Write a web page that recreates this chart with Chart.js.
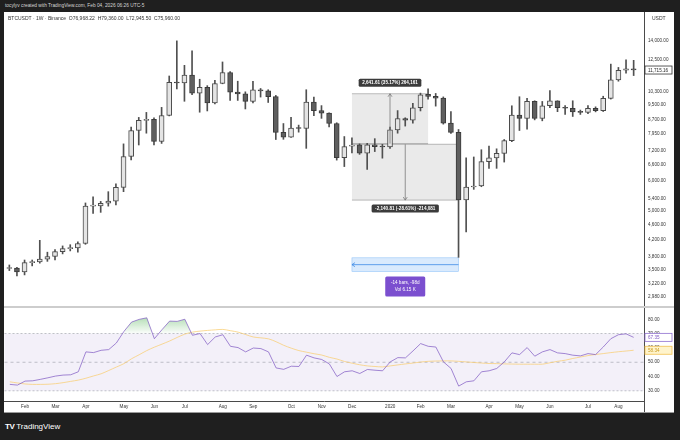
<!DOCTYPE html>
<html>
<head>
<meta charset="utf-8">
<title>BTCUSDT 1W</title>
<script src="https://cdn.jsdelivr.net/npm/chart.js@4.4.1/dist/chart.umd.min.js"></script>
<style>
  body { margin: 0; width: 680px; height: 440px; background: #1f1f1f; overflow: hidden; position: relative; font-family: "Liberation Sans", Arial, sans-serif; }
  #credit { position: absolute; left: 5px; top: 3px; font-size: 4.8px; color: #d6d6d6; white-space: nowrap; }
  #pane { position: absolute; left: 4px; top: 12px; width: 670px; height: 401px; background: #fff; }
  #priceChart { position: absolute; left: 0; top: 0; }
  #rsiChart { position: absolute; left: 0; top: 296px; }
  #symbol { position: absolute; left: 4px; top: 3px; font-size: 5px; color: #333; white-space: nowrap; }
  #unit { position: absolute; left: 648px; top: 3px; font-size: 5px; color: #333; }
  #sep { position: absolute; left: 0; top: 294px; width: 670px; height: 2px; background: #cdcdcd; }
  #axisFoot { position: absolute; left: 640px; top: 389px; width: 1px; height: 12px; background: #4a4a4a; }
  #bottomLine { position: absolute; left: 0; top: 400px; width: 670px; height: 1px; background: #9a9a9a; }
  #logo { position: absolute; left: 5px; top: 422px; color: #fff; font-size: 8px; white-space: nowrap; }
  #logo b { font-weight: 900; letter-spacing: -0.5px; margin-right: 2px; }
</style>
</head>
<body>
<div id="credit">tocylyv created with TradingView.com, Feb 04, 2026 06:26 UTC-5</div>
<div id="pane">
  <canvas id="priceChart" width="670" height="294"></canvas>
  <div id="symbol">BTCUSDT · 1W · Binance &nbsp;O76,968.22 &nbsp;H79,360.00 &nbsp;L72,945.50 &nbsp;C75,960.00</div>
  <div id="unit">USDT</div>
  <div id="sep"></div>
  <canvas id="rsiChart" width="670" height="105"></canvas>
  <div id="axisFoot"></div>
  <div id="bottomLine"></div>
</div>
<div id="logo"><b>TV</b>TradingView</div>
<script>
// weekly candles, first bar = week of 21 Jan 2019
const opens = [3535, 3545, 3460, 3660, 3675, 3740, 3800, 3915, 3985, 4000,
    4110, 5150, 5160, 5240, 5310, 5770, 6950, 8130, 8640, 8700,
    7610, 8900, 10880, 10830, 11360, 10190, 10550, 9600, 10800, 11540,
    10260, 10140, 9690, 10390, 10330, 9980, 8040, 7810, 8250, 8230,
    9660, 9170, 9030, 8480, 6900, 7400, 7460, 7090, 7460, 7380,
    7360, 8165, 8740, 8650, 9330, 10120, 9990, 9890, 8500, 8040,
    5350, 5780, 5815, 6740, 6890, 7080, 7650, 8920, 8750, 9690,
    8750, 9440, 9730, 9330, 9300, 9100, 9070, 9300, 9170, 9870,
    11040, 11700, 11800];
const highs = [3610, 3560, 3720, 3720, 4190, 3900, 3960, 4050, 4080, 4150,
    5250, 5450, 5300, 5620, 5890, 7500, 8300, 8800, 9070, 8780,
    9350, 11300, 13970, 12050, 13150, 11080, 10660, 11000, 12300, 11600,
    10950, 10270, 10950, 10480, 10400, 10050, 8480, 8800, 8400, 10400,
    9950, 9450, 9050, 8520, 7840, 7780, 7500, 7520, 7740, 7480,
    8300, 9170, 8780, 9580, 10190, 10450, 10170, 9960, 9110, 8180,
    6890, 6930, 7240, 7400, 7280, 7700, 9440, 9970, 9880, 9730,
    9690, 10350, 9730, 9450, 9730, 9200, 9450, 9380, 10000, 12140,
    11900, 12450, 12420];
const lows = [3490, 3380, 3400, 3590, 3650, 3690, 3720, 3860, 3930, 3900,
    4090, 4930, 4960, 5150, 5190, 5620, 6810, 7450, 8000, 7450,
    7520, 8880, 10450, 9700, 10100, 9080, 9150, 9550, 10780, 9750,
    9750, 9260, 9600, 9950, 9630, 7700, 7710, 7800, 8050, 7300,
    8890, 8750, 8310, 6800, 6540, 7100, 7040, 6430, 7160, 6880,
    7300, 8000, 8350, 8500, 9150, 9820, 9420, 8450, 7990, 3780,
    4410, 5700, 5790, 6470, 6470, 6720, 7600, 8130, 8200, 8670,
    8620, 9330, 9110, 8960, 8850, 8960, 9000, 9100, 9120, 9830,
    10950, 11500, 11330];
const closes = [3545, 3460, 3660, 3675, 3740, 3800, 3915, 3985, 4000, 4110,
    5150, 5160, 5240, 5310, 5770, 6950, 8130, 8640, 8700, 7610,
    8900, 10880, 10830, 11360, 10190, 10550, 9600, 10800, 11540, 10250,
    10140, 9690, 10390, 10330, 9980, 8040, 7810, 8250, 8230, 9660,
    9170, 9030, 8480, 6900, 7380, 7440, 7090, 7460, 7380, 7360,
    8165, 8740, 8650, 9330, 10080, 9990, 9890, 8500, 8040, 5350,
    5780, 5815, 6740, 6890, 7080, 7650, 8920, 8750, 9690, 8750,
    9440, 9730, 9330, 9300, 9100, 9070, 9300, 9170, 9870, 11040,
    11700, 11800, 11715.16];

const rsiValues = [34.5, 34, 36.8, 37, 38, 39.1, 40.3, 41, 41.2, 43.3,
    57.2, 56.7, 58.3, 58.8, 63.4, 71.5, 78, 79.9, 81, 66.4,
    72.7, 78.7, 78.5, 80, 68.8, 70, 62.3, 67.6, 69.2, 61.1,
    60.2, 57.2, 59.9, 59.5, 57.2, 46, 45, 47.2, 47, 54.9,
    53, 51.9, 48.8, 40, 43.3, 44, 42.1, 44.9, 44.4, 44,
    50.2, 53.2, 53, 57.9, 63, 61.1, 60.6, 50.2, 45.6, 33.3,
    36.3, 37, 43.3, 44, 45.6, 50.2, 56.5, 55.3, 60.2, 54.2,
    57.2, 58.8, 56.5, 56, 54.9, 54.4, 56, 55.3, 60.6, 66.4,
    69.2, 69.8, 67.35];
const rsiMa = [36.3, 35.5, 34.8, 34.5, 34.5, 34.6, 35, 35.7, 36.6, 37.5,
    38.8, 40.4, 41.9, 44.2, 46.6, 49, 52.4, 55.2, 58.1, 60.5,
    62.6, 64.8, 67.3, 69.6, 71, 71.7, 72.2, 72.6, 72.9, 72,
    71, 69.3, 67.6, 67, 66.3, 64.3, 61.8, 59.8, 58.1, 57,
    55.9, 55, 53.4, 52.2, 50.5, 49.3, 48.2, 47.4, 47, 46.7,
    47.4, 48.1, 48.8, 49.4, 50.1, 50.6, 50.8, 50.9, 50.9, 50.6,
    50.2, 49.8, 49.4, 49.1, 49, 48.8, 48.7, 48.6, 48.6, 48.6,
    48.6, 49.6, 50.6, 51.4, 52.6, 53.6, 54.6, 55.4, 56, 56.7,
    57.3, 57.8, 58.34];

const monthTickIdx = [2, 6, 10, 15, 19, 23, 28, 32, 37, 41, 45, 50, 54, 58, 63, 67, 71, 76, 80];
const monthLabels = ['Feb', 'Mar', 'Apr', 'May', 'Jun', 'Jul', 'Aug', 'Sep', 'Oct', 'Nov', 'Dec',
    '2020', 'Feb', 'Mar', 'Apr', 'May', 'Jun', 'Jul', 'Aug'];
const priceTicks = [2980, 3220, 3500, 3800, 4200, 4600, 5000, 5400, 6000, 6600, 7200,
    7950, 8700, 9500, 10300, 12500, 14000];
const rsiTicks = [30, 40, 50, 60, 70, 80];

const lastPrice = 11715.16;
const rsiLast = 67.35;
const rsiMaLast = 58.34;

// drawing tools on the chart
const rangeUp = {from: 45, to: 55, low: 7511, high: 10152, text: '2,641.61 (35.17%) 264,161'};
const rangeDown = {from: 45, to: 59, high: 7482, low: 5341, text: '-2,140.81 (-28.61%) -214,081'};
const dateRange = {from: 59, to: 45, high: 3770, low: 3470, lines: ['-14 bars, -98d', 'Vol 6.15 K']};

const X_MIN = -0.7, X_MAX = 83.36;
const tickFont = {family: 'Liberation Sans', size: 4.6};
const fmt2 = v => v.toLocaleString('en-US', {minimumFractionDigits: 2, maximumFractionDigits: 2});

const bodies = opens.map((o, i) => ({x: i, y: [o, closes[i]]}));
const wicks = lows.map((l, i) => ({x: i, y: [l, highs[i]]}));
const bullish = opens.map((o, i) => closes[i] >= o);

function tag(ctx, text, cx, cy, fill, color, stroke) {
    ctx.font = 'bold 4.6px "Liberation Sans"';
    const w = ctx.measureText(text).width + 7, h = 8;
    ctx.fillStyle = fill;
    ctx.beginPath();
    ctx.roundRect(cx - w / 2, cy - h / 2, w, h, 1.5);
    ctx.fill();
    if (stroke) { ctx.strokeStyle = stroke; ctx.lineWidth = 0.8; ctx.stroke(); }
    ctx.fillStyle = color;
    ctx.textAlign = 'center';
    ctx.textBaseline = 'middle';
    ctx.fillText(text, cx, cy + 0.3);
}

function axisTag(chart, value, text, fill, border, color) {
    const {ctx, chartArea, scales: {y}} = chart;
    const py = y.getPixelForValue(value);
    ctx.save();
    ctx.fillStyle = fill;
    ctx.fillRect(chartArea.right + 1, py - 4, 27, 8);
    ctx.strokeStyle = border;
    ctx.lineWidth = 0.8;
    ctx.strokeRect(chartArea.right + 1, py - 4, 27, 8);
    ctx.fillStyle = color;
    ctx.font = '4.6px "Liberation Sans"';
    ctx.textAlign = 'left';
    ctx.textBaseline = 'middle';
    ctx.fillText(text, chartArea.right + 4, py + 0.3);
    ctx.restore();
}

const priceOverlay = {
    id: 'priceOverlay',
    beforeDatasetsDraw(chart) {
        const {ctx, scales: {x, y}} = chart;
        ctx.save();
        [rangeUp, rangeDown].forEach(r => {
            const x0 = x.getPixelForValue(r.from), x1 = x.getPixelForValue(r.to);
            const yt = y.getPixelForValue(r.high), yb = y.getPixelForValue(r.low);
            ctx.fillStyle = 'rgba(160,160,160,0.22)';
            ctx.fillRect(x0, yt, x1 - x0, yb - yt);
            ctx.strokeStyle = 'rgba(120,120,120,0.7)';
            ctx.lineWidth = 0.7;
            ctx.beginPath();
            ctx.moveTo(x0, yt); ctx.lineTo(x1, yt);
            ctx.moveTo(x0, yb); ctx.lineTo(x1, yb);
            ctx.stroke();
        });
        const d0 = x.getPixelForValue(dateRange.to), d1 = x.getPixelForValue(dateRange.from);
        const dt = y.getPixelForValue(dateRange.high), db = y.getPixelForValue(dateRange.low);
        ctx.fillStyle = 'rgba(66,150,243,0.2)';
        ctx.fillRect(d0, dt, d1 - d0, db - dt);
        ctx.strokeStyle = 'rgba(66,150,243,0.5)';
        ctx.lineWidth = 0.6;
        ctx.strokeRect(d0, dt, d1 - d0, db - dt);
        ctx.restore();
    },
    afterDatasetsDraw(chart) {
        const {ctx, scales: {x, y}} = chart;
        ctx.save();
        ctx.strokeStyle = '#7a7a7a';
        ctx.lineWidth = 0.8;
        // up arrow
        let cx = x.getPixelForValue((rangeUp.from + rangeUp.to) / 2);
        let ya = y.getPixelForValue(rangeUp.low), yb = y.getPixelForValue(rangeUp.high);
        ctx.beginPath();
        ctx.moveTo(cx, ya); ctx.lineTo(cx, yb);
        ctx.moveTo(cx - 2, yb + 3); ctx.lineTo(cx, yb); ctx.lineTo(cx + 2, yb + 3);
        ctx.stroke();
        tag(ctx, rangeUp.text, cx, yb - 11, '#3b3b3b', '#fff');
        // down arrow
        cx = x.getPixelForValue((rangeDown.from + rangeDown.to) / 2);
        ya = y.getPixelForValue(rangeDown.high); yb = y.getPixelForValue(rangeDown.low);
        ctx.strokeStyle = '#7a7a7a';
        ctx.lineWidth = 0.8;
        ctx.beginPath();
        ctx.moveTo(cx, ya); ctx.lineTo(cx, yb);
        ctx.moveTo(cx - 2, yb - 3); ctx.lineTo(cx, yb); ctx.lineTo(cx + 2, yb - 3);
        ctx.stroke();
        tag(ctx, rangeDown.text, cx, yb + 8.5, '#3b3b3b', '#fff');
        // date range
        const d0 = x.getPixelForValue(dateRange.to), d1 = x.getPixelForValue(dateRange.from);
        const dt = y.getPixelForValue(dateRange.high), db = y.getPixelForValue(dateRange.low);
        const my = (dt + db) / 2;
        ctx.strokeStyle = '#3d8ce6';
        ctx.lineWidth = 0.8;
        ctx.beginPath();
        ctx.moveTo(d1, my); ctx.lineTo(d0, my);
        ctx.moveTo(d0 + 3, my - 2); ctx.lineTo(d0, my); ctx.lineTo(d0 + 3, my + 2);
        ctx.stroke();
        const mx = (d0 + d1) / 2;
        ctx.fillStyle = '#7b4fcf';
        ctx.beginPath();
        ctx.roundRect(mx - 20, db + 5, 40, 20, 1.5);
        ctx.fill();
        ctx.fillStyle = '#fff';
        ctx.font = '4.6px "Liberation Sans"';
        ctx.textAlign = 'center';
        ctx.textBaseline = 'middle';
        ctx.fillText(dateRange.lines[0], mx, db + 11.5);
        ctx.fillText(dateRange.lines[1], mx, db + 18.5);
        ctx.restore();
    },
    afterDraw(chart) {
        axisTag(chart, lastPrice, fmt2(lastPrice), '#fff', '#333', '#222');
    }
};

const rsiOverlay = {
    id: 'rsiOverlay',
    beforeDatasetsDraw(chart) {
        const {ctx, chartArea, scales: {y}} = chart;
        const y70 = y.getPixelForValue(70), y50 = y.getPixelForValue(50), y30 = y.getPixelForValue(30);
        ctx.save();
        ctx.fillStyle = 'rgba(126,87,194,0.09)';
        ctx.fillRect(chartArea.left, y70, chartArea.right - chartArea.left, y30 - y70);
        ctx.strokeStyle = 'rgba(120,123,134,0.55)';
        ctx.lineWidth = 0.8;
        [[y70, [2, 2]], [y50, [3, 3]], [y30, [2, 2]]].forEach(([py, dash]) => {
            ctx.setLineDash(dash);
            ctx.beginPath();
            ctx.moveTo(chartArea.left, py);
            ctx.lineTo(chartArea.right, py);
            ctx.stroke();
        });
        ctx.restore();
    },
    afterDraw(chart) {
        axisTag(chart, rsiLast, fmt2(rsiLast), '#fff', '#8e6fd0', '#7e57c2');
        axisTag(chart, rsiMaLast, fmt2(rsiMaLast), '#fff4cc', '#f2c14e', '#c99a1e');
    }
};

const priceChart = new Chart(document.getElementById('priceChart'), {
    type: 'bar',
    data: {
        datasets: [{
            data: bodies,
            backgroundColor: bullish.map(b => b ? '#e4e4e4' : '#5f5f5f'),
            borderColor: bullish.map(b => b ? '#4a4a4a' : '#3a3a3a'),
            borderWidth: 1,
            borderSkipped: false,
            barThickness: 5,
            minBarLength: 1,
            grouped: false,
            order: 1
        }, {
            data: wicks,
            backgroundColor: '#505050',
            barThickness: 1,
            grouped: false,
            order: 2
        }]
    },
    options: {
        responsive: false,
        animation: false,
        events: [],
        layout: {padding: 0},
        plugins: {legend: {display: false}, tooltip: {enabled: false}},
        scales: {
            x: {type: 'linear', min: X_MIN, max: X_MAX, offset: false, display: false},
            y: {
                type: 'logarithmic',
                position: 'right',
                min: 2818,
                max: 16630,
                grid: {display: false, drawTicks: false},
                border: {display: true, color: '#4a4a4a', width: 1},
                ticks: {font: tickFont, color: '#333', padding: 4, autoSkip: false, callback: v => fmt2(v)},
                afterBuildTicks: s => { s.ticks = priceTicks.map(v => ({value: v})); },
                afterFit: s => { s.width = 30; s.paddingTop = 0; s.paddingBottom = 0; }
            }
        }
    },
    plugins: [priceOverlay]
});

const rsiChart = new Chart(document.getElementById('rsiChart'), {
    type: 'line',
    data: {
        datasets: [{
            data: rsiValues.map((v, i) => ({x: i, y: v})),
            borderColor: 'rgba(126,87,194,0.7)',
            borderWidth: 1,
            pointRadius: 0,
            tension: 0,
            fill: {target: {value: 70}, above: 'rgba(76,175,80,0.3)', below: 'rgba(0,0,0,0)'},
            order: 1
        }, {
            data: rsiMa.map((v, i) => ({x: i, y: v})),
            borderColor: 'rgba(248,205,115,0.75)',
            borderWidth: 1,
            pointRadius: 0,
            tension: 0.3,
            fill: false,
            order: 2
        }]
    },
    options: {
        responsive: false,
        animation: false,
        events: [],
        layout: {padding: 0},
        plugins: {legend: {display: false}, tooltip: {enabled: false}},
        scales: {
            x: {
                type: 'linear',
                min: X_MIN,
                max: X_MAX,
                offset: false,
                grid: {display: false, drawTicks: false},
                border: {display: true, color: '#4a4a4a', width: 1},
                ticks: {
                    font: tickFont, color: '#333', padding: 3, autoSkip: false, maxRotation: 0,
                    callback: v => { const k = monthTickIdx.indexOf(v); return k < 0 ? '' : monthLabels[k]; }
                },
                afterBuildTicks: s => { s.ticks = monthTickIdx.map(v => ({value: v})); },
                afterFit: s => { s.height = 12; s.paddingLeft = 0; s.paddingRight = 0; }
            },
            y: {
                position: 'right',
                min: 22.9,
                max: 87.5,
                grid: {display: false, drawTicks: false},
                border: {display: true, color: '#4a4a4a', width: 1},
                ticks: {font: tickFont, color: '#333', padding: 4, autoSkip: false, callback: v => fmt2(v)},
                afterBuildTicks: s => { s.ticks = rsiTicks.map(v => ({value: v})); },
                afterFit: s => { s.width = 30; s.paddingTop = 0; s.paddingBottom = 0; }
            }
        }
    },
    plugins: [rsiOverlay]
});

// green overbought fill fades out towards the 70 line
const rsiScale = rsiChart.scales.y;
const green = rsiChart.ctx.createLinearGradient(0, rsiScale.getPixelForValue(82), 0, rsiScale.getPixelForValue(70));
green.addColorStop(0, 'rgba(76,175,80,0.45)');
green.addColorStop(1, 'rgba(76,175,80,0.03)');
rsiChart.data.datasets[0].fill.above = green;
rsiChart.update('none');
</script>
</body>
</html>
